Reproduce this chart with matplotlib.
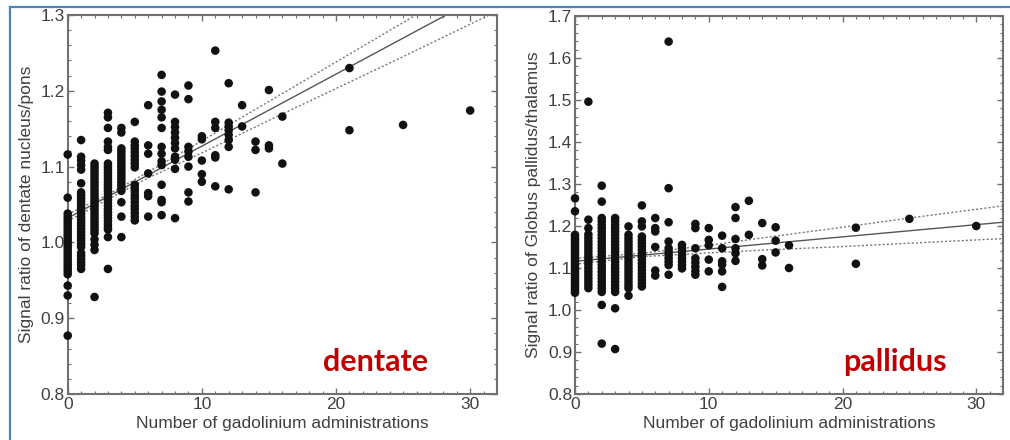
import matplotlib
matplotlib.use("Agg")
import matplotlib.pyplot as plt
from matplotlib.lines import Line2D
from matplotlib.ticker import MultipleLocator

plt.rcParams['font.family'] = ['Liberation Sans', 'DejaVu Sans']

# ---------------- Data: dentate nucleus / pons ----------------
dentate_x0 = [1.116, 1.059, 1.038, 1.034, 1.030, 1.026, 1.022, 1.018, 1.014, 1.010, 1.006,
              1.002, 0.998, 0.994, 0.990, 0.986, 0.982, 0.978, 0.974, 0.970, 0.966, 0.962,
              0.958, 0.943, 0.930, 0.877]
dentate_x1 = [1.135, 1.113, 1.108, 1.102, 1.096, 1.078, 1.066, 1.062, 1.058, 1.054, 1.050,
              1.046, 1.042, 1.038, 1.034, 1.030, 1.026, 1.022, 1.018, 1.014, 1.010, 1.006,
              1.002, 0.998, 0.994, 0.986, 0.982, 0.978, 0.974, 0.970, 0.965]
dentate_x2 = [1.104, 1.100, 1.096, 1.092, 1.088, 1.084, 1.080, 1.076, 1.072, 1.068, 1.064,
              1.060, 1.056, 1.052, 1.048, 1.044, 1.040, 1.036, 1.032, 1.028, 1.024, 1.020,
              1.016, 1.012, 1.004, 0.997, 0.990, 0.928]
dentate_x3 = [1.171, 1.165, 1.151, 1.133, 1.126, 1.122, 1.104, 1.100, 1.096, 1.092, 1.088,
              1.084, 1.080, 1.076, 1.072, 1.068, 1.064, 1.060, 1.056, 1.052, 1.048, 1.044,
              1.040, 1.036, 1.032, 1.028, 1.024, 1.020, 1.017, 1.007, 0.965]
dentate_x4 = [1.151, 1.145, 1.124, 1.120, 1.116, 1.112, 1.108, 1.104, 1.100, 1.096, 1.092,
              1.088, 1.084, 1.080, 1.076, 1.072, 1.068, 1.053, 1.034, 1.007]
dentate_x5 = [1.159, 1.133, 1.128, 1.124, 1.119, 1.114, 1.109, 1.104, 1.099, 1.076, 1.071,
              1.067, 1.062, 1.058, 1.053, 1.048, 1.044, 1.039, 1.034, 1.029]
dentate_x6 = [1.181, 1.128, 1.117, 1.091, 1.065, 1.061, 1.034]
dentate_x7 = [1.221, 1.199, 1.186, 1.175, 1.165, 1.151, 1.126, 1.117, 1.107, 1.102, 1.076,
              1.056, 1.053, 1.036]
dentate_x8 = [1.195, 1.159, 1.152, 1.145, 1.138, 1.131, 1.124, 1.113, 1.109, 1.097, 1.032]
dentate_x9 = [1.207, 1.189, 1.126, 1.120, 1.113, 1.100, 1.066, 1.054]
dentate_x10 = [1.140, 1.136, 1.108, 1.090, 1.080]
dentate_x11 = [1.253, 1.159, 1.151, 1.115, 1.112, 1.074]
dentate_x12 = [1.210, 1.158, 1.153, 1.148, 1.142, 1.135, 1.126, 1.070]
dentate_x13 = [1.181, 1.153]
dentate_x14 = [1.133, 1.122, 1.066]
dentate_x15 = [1.201, 1.128, 1.124]
dentate_x16 = [1.166, 1.104]
dentate_x21 = [1.230, 1.148]
dentate_x25 = [1.155]
dentate_x30 = [1.174]
dentate_cols = {0: dentate_x0, 1: dentate_x1, 2: dentate_x2, 3: dentate_x3, 4: dentate_x4,
                5: dentate_x5, 6: dentate_x6, 7: dentate_x7, 8: dentate_x8, 9: dentate_x9,
                10: dentate_x10, 11: dentate_x11, 12: dentate_x12, 13: dentate_x13,
                14: dentate_x14, 15: dentate_x15, 16: dentate_x16, 21: dentate_x21,
                25: dentate_x25, 30: dentate_x30}

# regression line and confidence band
dentate_line_x = [0, 32]
dentate_line_y = [1.032, 1.336]
dentate_band_x = [0, 3, 6, 10, 15, 20, 25, 32]
dentate_band_up = [1.037, 1.063, 1.093, 1.134, 1.186, 1.238, 1.290, 1.364]
dentate_band_lo = [1.028, 1.057, 1.085, 1.118, 1.161, 1.203, 1.245, 1.305]

# ---------------- Data: globus pallidus / thalamus ----------------
pallidus_x0 = [1.266, 1.235, 1.179, 1.173, 1.167, 1.161, 1.155, 1.149, 1.143, 1.137, 1.131,
               1.125, 1.119, 1.113, 1.107, 1.101, 1.095, 1.089, 1.083, 1.077, 1.071, 1.065,
               1.059, 1.053, 1.047, 1.041]
pallidus_x1 = [1.496, 1.215, 1.195, 1.180, 1.172, 1.164, 1.156, 1.148, 1.140, 1.132, 1.124,
               1.116, 1.108, 1.100, 1.092, 1.084, 1.076, 1.068, 1.060, 1.052]
pallidus_x2 = [1.296, 1.258, 1.219, 1.211, 1.203, 1.195, 1.187, 1.179, 1.171, 1.163, 1.155,
               1.147, 1.139, 1.131, 1.123, 1.115, 1.107, 1.099, 1.091, 1.083, 1.075, 1.067,
               1.059, 1.051, 1.043, 1.012, 0.920]
pallidus_x3 = [1.219, 1.211, 1.203, 1.195, 1.187, 1.179, 1.171, 1.163, 1.155, 1.147, 1.139,
               1.131, 1.123, 1.115, 1.107, 1.099, 1.091, 1.083, 1.075, 1.067, 1.059, 1.051,
               1.043, 1.004, 0.907]
pallidus_x4 = [1.199, 1.179, 1.171, 1.163, 1.155, 1.147, 1.139, 1.131, 1.123, 1.115, 1.107,
               1.099, 1.091, 1.083, 1.075, 1.067, 1.059, 1.052, 1.034]
pallidus_x5 = [1.249, 1.211, 1.199, 1.175, 1.167, 1.159, 1.151, 1.143, 1.135, 1.127, 1.119,
               1.111, 1.103, 1.095, 1.087, 1.079, 1.071, 1.063, 1.056]
pallidus_x6 = [1.219, 1.195, 1.187, 1.150, 1.094, 1.082]
pallidus_x7 = [1.639, 1.290, 1.209, 1.163, 1.147, 1.139, 1.131, 1.123, 1.115, 1.107, 1.084]
pallidus_x8 = [1.155, 1.147, 1.139, 1.131, 1.123, 1.115, 1.107, 1.099]
pallidus_x9 = [1.205, 1.195, 1.147, 1.123, 1.113, 1.103, 1.093, 1.084]
pallidus_x10 = [1.195, 1.167, 1.154, 1.120, 1.092]
pallidus_x11 = [1.177, 1.147, 1.116, 1.108, 1.092, 1.055]
pallidus_x12 = [1.245, 1.219, 1.169, 1.147, 1.135, 1.117]
pallidus_x13 = [1.260, 1.179]
pallidus_x14 = [1.207, 1.121, 1.106]
pallidus_x15 = [1.197, 1.165, 1.137]
pallidus_x16 = [1.154, 1.100]
pallidus_x21 = [1.196, 1.110]
pallidus_x25 = [1.217]
pallidus_x30 = [1.200]
pallidus_cols = {0: pallidus_x0, 1: pallidus_x1, 2: pallidus_x2, 3: pallidus_x3, 4: pallidus_x4,
                 5: pallidus_x5, 6: pallidus_x6, 7: pallidus_x7, 8: pallidus_x8, 9: pallidus_x9,
                 10: pallidus_x10, 11: pallidus_x11, 12: pallidus_x12, 13: pallidus_x13,
                 14: pallidus_x14, 15: pallidus_x15, 16: pallidus_x16, 21: pallidus_x21,
                 25: pallidus_x25, 30: pallidus_x30}

pallidus_line_x = [0, 32]
pallidus_line_y = [1.116, 1.209]
pallidus_band_x = [0, 5, 10, 15, 20, 25, 32]
pallidus_band_up = [1.123, 1.135, 1.154, 1.176, 1.197, 1.219, 1.248]
pallidus_band_lo = [1.109, 1.127, 1.136, 1.144, 1.151, 1.159, 1.170]

x_ticks = [0, 10, 20, 30]
dentate_yticks = [0.8, 0.9, 1.0, 1.1, 1.2, 1.3]
pallidus_yticks = [0.8, 0.9, 1.0, 1.1, 1.2, 1.3, 1.4, 1.5, 1.6, 1.7]

xlabel = "Number of gadolinium administrations"
dentate_ylabel = "Signal ratio of dentate nucleus/pons"
pallidus_ylabel = "Signal ratio of Globus pallidus/thalamus"

# ---------------- Figure ----------------
fig = plt.figure(figsize=(10.1, 4.4), dpi=100)
ax1 = fig.add_axes([67.7 / 1010, 1 - 394 / 440, (497 - 67.7) / 1010, (394 - 15) / 440])
ax2 = fig.add_axes([575 / 1010, 1 - 394 / 440, (1003 - 575) / 1010, (394 - 16) / 440])

spine_col = '#707070'
text_col = '#404040'


def draw_panel(ax, cols, line_x, line_y, band_x, band_up, band_lo, yticks, ylabel, tag, tag_x):
    for xv, ys in cols.items():
        ax.scatter([xv] * len(ys), ys, s=38, color='#111111', edgecolors='none',
                   zorder=3, clip_on=False)
    ax.plot(line_x, line_y, color='#555555', lw=1.0, zorder=2)
    ax.plot(band_x, band_up, color='#777777', lw=1.0, ls=(0, (1.5, 1.5)), zorder=2)
    ax.plot(band_x, band_lo, color='#777777', lw=1.0, ls=(0, (1.5, 1.5)), zorder=2)
    ax.set_xlim(0, 32)
    ax.set_ylim(yticks[0], yticks[-1])
    ax.set_xticks(x_ticks)
    ax.set_yticks(yticks)
    ax.set_yticklabels([f"{t:.1f}" for t in yticks])
    ax.xaxis.set_minor_locator(MultipleLocator(1))
    ax.yaxis.set_minor_locator(MultipleLocator(0.02))
    ax.tick_params(which='both', direction='in', top=True, right=True, color=spine_col,
                   labelcolor=text_col, labelsize=12.5)
    ax.tick_params(which='major', length=4, width=1)
    ax.tick_params(which='minor', length=2, width=0.8)
    ax.tick_params(axis='y', pad=2)
    ax.tick_params(axis='x', pad=2)
    for sp in ax.spines.values():
        sp.set_color(spine_col)
        sp.set_linewidth(1.5)
    ax.set_xlabel(xlabel, fontsize=12.5, color=text_col, labelpad=3)
    ax.set_ylabel(ylabel, fontsize=12.5, color=text_col, labelpad=5)
    ax.text(tag_x, 0.085, tag, transform=ax.transAxes, fontsize=22, fontweight='bold',
            color='#C00000', family=['Lato', 'DejaVu Sans'], ha='center', va='center')


draw_panel(ax1, dentate_cols, dentate_line_x, dentate_line_y, dentate_band_x,
           dentate_band_up, dentate_band_lo, dentate_yticks, dentate_ylabel, 'dentate', 0.716)
draw_panel(ax2, pallidus_cols, pallidus_line_x, pallidus_line_y, pallidus_band_x,
           pallidus_band_up, pallidus_band_lo, pallidus_yticks, pallidus_ylabel, 'pallidus', 0.748)

# blue slide frame
blue = '#4f81bd'
fig.add_artist(Line2D([10 / 1010, 1.0], [1 - 7 / 440, 1 - 7 / 440], color=blue, lw=1.6,
                      transform=fig.transFigure))
fig.add_artist(Line2D([10 / 1010, 10 / 1010], [0.0, 1 - 7 / 440], color=blue, lw=1.6,
                      transform=fig.transFigure))

fig.savefig("out.png", dpi=100)
